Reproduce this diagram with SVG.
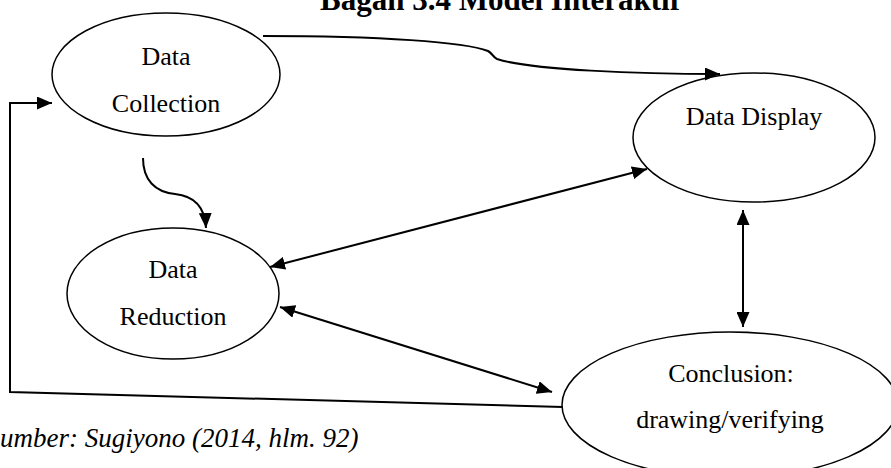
<svg xmlns="http://www.w3.org/2000/svg" width="891" height="468" viewBox="0 0 891 468">
<defs>
<marker id="ah" viewBox="0 0 15 13" refX="15" refY="6.5" markerWidth="15" markerHeight="13" markerUnits="userSpaceOnUse" orient="auto-start-reverse">
<path d="M0,0 L15,6.5 L0,13 z" fill="#000"/>
</marker>
<style>
.node ellipse{fill:#fff;stroke:#000;stroke-width:1.5}
.lbl{font-family:"Liberation Serif","Times New Roman",serif;font-size:26px;fill:#000;text-anchor:middle}
.conn path,.conn line,.conn polyline{fill:none;stroke:#000;stroke-width:2}
.title{font-family:"Liberation Serif","Times New Roman",serif;font-size:31px;font-weight:bold;text-anchor:middle}
.cap{font-family:"Liberation Serif","Times New Roman",serif;font-size:27px;font-style:italic}
</style>
</defs>
<rect width="891" height="468" fill="#fff"/>
<text class="title" x="500" y="10">Bagan 3.4 Model Interaktif</text>
<g id="collection" class="node">
<ellipse cx="166" cy="74.5" rx="114" ry="61.5"/>
<text class="lbl" x="166" y="65">Data</text>
<text class="lbl" x="166" y="112">Collection</text>
</g>
<g id="display" class="node">
<ellipse cx="754" cy="137.5" rx="121" ry="64.5"/>
<text class="lbl" x="754" y="125">Data Display</text>
</g>
<g id="reduction" class="node">
<ellipse cx="173" cy="293.5" rx="106" ry="65.5"/>
<text class="lbl" x="173" y="278">Data</text>
<text class="lbl" x="173" y="325">Reduction</text>
</g>
<g id="conclusion" class="node">
<ellipse cx="730" cy="405" rx="168" ry="73"/>
<text class="lbl" x="731" y="382">Conclusion:</text>
<text class="lbl" x="730" y="428">drawing/verifying</text>
</g>
<g id="connectors" class="conn">
<path d="M263,36 C380,36 465,42 488,51 C492,53 493,57 497,59 C530,70 640,74 720,74" marker-end="url(#ah)"/>
<path d="M143,158 C143,180 155,192 175,194 C195,196 205,208 206,228" marker-end="url(#ah)"/>
<line x1="270" y1="267" x2="647" y2="169" marker-start="url(#ah)" marker-end="url(#ah)"/>
<line x1="280" y1="307" x2="552" y2="392" marker-start="url(#ah)" marker-end="url(#ah)"/>
<line x1="743" y1="210" x2="743" y2="327" marker-start="url(#ah)" marker-end="url(#ah)"/>
<polyline points="563,407 10,392 10,103 52,103" marker-end="url(#ah)"/>
</g>
<text class="cap" x="-13.5" y="447">Sumber: Sugiyono (2014, hlm. 92)</text>
</svg>
